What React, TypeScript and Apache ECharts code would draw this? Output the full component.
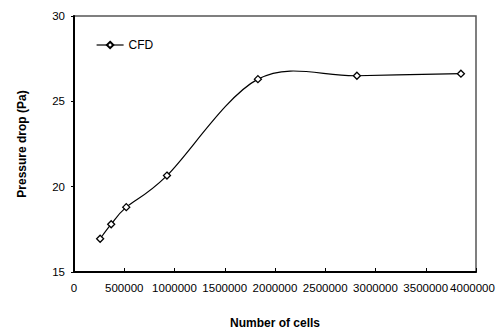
import React, { useEffect, useRef } from "react";
import * as echarts from "echarts";

const cellCounts = [260000, 370000, 520000, 925000, 1830000, 2815000, 3850000];
const pressureDrop = [16.95, 17.8, 18.8, 20.65, 26.3, 26.5, 26.62];
const seriesName = "CFD";
const xTitle = "Number of cells";
const yTitle = "Pressure drop (Pa)";
const xMax = 4000000;

export default function App() {
  const ref = useRef<HTMLDivElement>(null);
  useEffect(() => {
    document.body.style.margin = "0";
    const chart = echarts.init(ref.current!, null, { renderer: "svg" });
    const font = "'Liberation Sans', Arial, sans-serif";
    const renderCurve = (_params: any, api: any) => {
      const pts = cellCounts.map((x, i) => api.coord([x, pressureDrop[i]]));
      const n = pts.length;
      let d = `M${pts[0][0]},${pts[0][1]}`;
      for (let i = 0; i < n - 1; i++) {
        const p0 = pts[Math.max(0, i - 1)];
        const p1 = pts[i];
        const p2 = pts[i + 1];
        const p3 = pts[Math.min(n - 1, i + 2)];
        const c1x = p1[0] + (p2[0] - p0[0]) / 6;
        const c1y = p1[1] + (p2[1] - p0[1]) / 6;
        const c2x = p2[0] - (p3[0] - p1[0]) / 6;
        const c2y = p2[1] - (p3[1] - p1[1]) / 6;
        d += ` C${c1x},${c1y} ${c2x},${c2y} ${p2[0]},${p2[1]}`;
      }
      return {
        type: "path",
        shape: { pathData: d },
        style: { fill: "none", stroke: "#000", lineWidth: 1.2 },
      };
    };
    chart.setOption({
      animation: false,
      backgroundColor: "#fff",
      grid: {
        left: 74,
        right: 20,
        top: 16,
        bottom: 60,
        outerBoundsMode: "none",
        containLabel: false,
        show: true,
        borderColor: "#555",
        borderWidth: 1.5,
        backgroundColor: "transparent",
      },
      legend: {
        left: 91,
        top: 34,
        itemWidth: 27,
        itemHeight: 8,
        textStyle: { color: "#000", fontFamily: font, fontSize: 12 },
        lineStyle: { color: "#000", width: 1.2, opacity: 1 },
        data: [seriesName],
      },
      xAxis: {
        type: "value",
        min: 0,
        max: xMax,
        interval: 500000,
        name: xTitle,
        nameLocation: "middle",
        nameGap: 45,
        nameTextStyle: { color: "#000", fontFamily: font, fontSize: 12, fontWeight: "bold" },
        axisLine: { show: true, lineStyle: { color: "#000", width: 2 } },
        axisTick: { show: true, inside: true, length: 4, lineStyle: { color: "#000" } },
        axisLabel: {
          color: "#000",
          fontFamily: font,
          fontSize: 11.5,
          margin: 10,
          showMaxLabel: true,
          formatter: (v: number) => (v === xMax ? `{m|${v}}` : String(v)),
          rich: {
            m: { color: "#000", fontFamily: font, fontSize: 11.5, padding: [0, 7, 0, 0] },
          },
        },
        splitLine: { show: false },
      },
      yAxis: {
        type: "value",
        min: 15,
        max: 30,
        interval: 5,
        name: yTitle,
        nameLocation: "middle",
        nameGap: 46,
        nameRotate: 90,
        nameTextStyle: { color: "#000", fontFamily: font, fontSize: 12, fontWeight: "bold" },
        axisLine: { show: true, lineStyle: { color: "#000", width: 2 } },
        axisTick: { show: true, inside: false, length: 3, lineStyle: { color: "#000" } },
        axisLabel: { color: "#000", fontFamily: font, fontSize: 11.5, margin: 9 },
        splitLine: { show: false },
      },
      series: [
        {
          name: "_curve",
          type: "custom",
          z: 1,
          silent: true,
          data: [[cellCounts[0], pressureDrop[0]]],
          renderItem: renderCurve,
        },
        {
          name: seriesName,
          type: "line",
          z: 3,
          data: cellCounts.map((x, i) => [x, pressureDrop[i]]),
          symbol: "diamond",
          symbolSize: 7,
          showAllSymbol: true,
          lineStyle: { color: "#000", width: 1.2, opacity: 0 },
          itemStyle: { color: "#fff", borderColor: "#000", borderWidth: 1.3 },
        },
      ],
    });
    return () => chart.dispose();
  }, []);
  return <div ref={ref} style={{ width: 496, height: 332 }} />;
}
